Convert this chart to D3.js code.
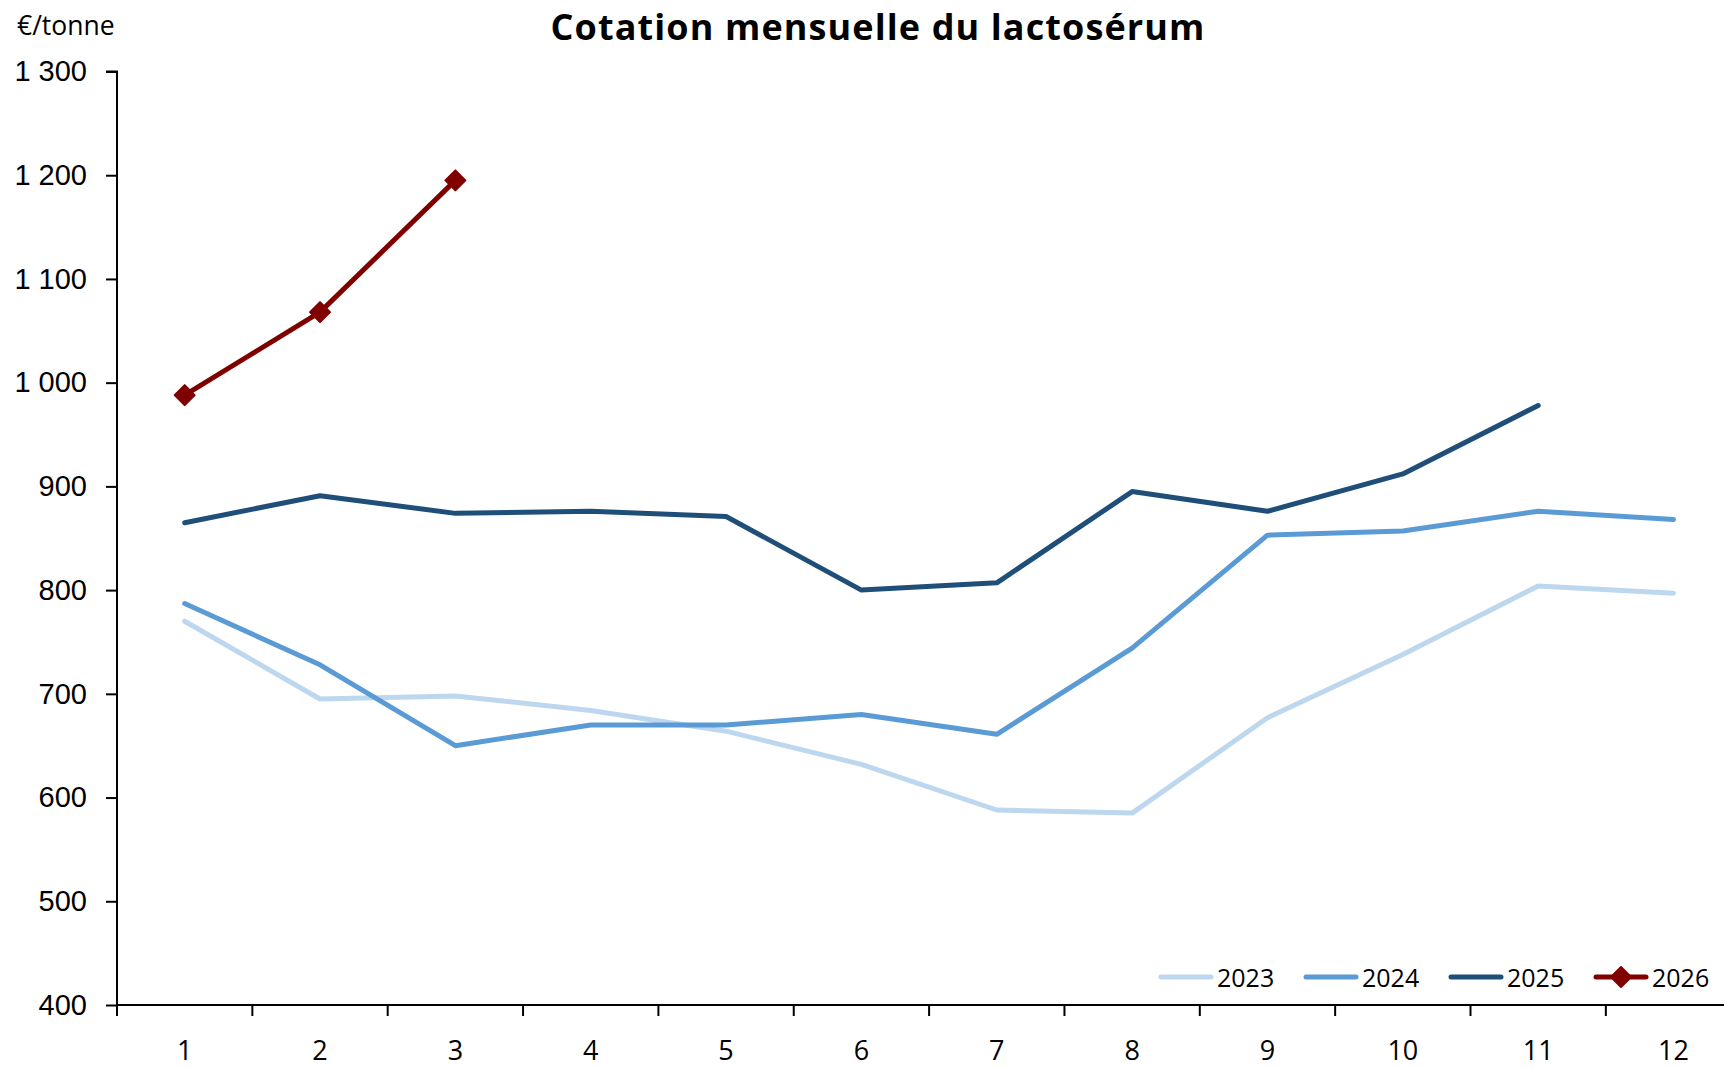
<!DOCTYPE html>
<html>
<head>
<meta charset="utf-8">
<script src="https://cdn.jsdelivr.net/npm/d3@7"></script>
<style>
  body { margin: 0; background: #fff; }
  svg { display: block; font-family: "Open Sans", sans-serif; }
</style>
</head>
<body>
<div id="chart"></div>
<script>
var months = [1, 2, 3, 4, 5, 6, 7, 8, 9, 10, 11, 12];
var yTicks = [400, 500, 600, 700, 800, 900, 1000, 1100, 1200, 1300];
var years = ["2023", "2024", "2025", "2026"];
var colors = ["#bdd7ee", "#5b9bd5", "#1f4e79", "#800000"];

var v2023 = [770, 695, 698, 684, 664, 632, 588, 585, 677, 738, 804, 797];
var v2024 = [787, 728, 650, 670, 670, 680, 661, 744, 853, 857, 876, 868];
var v2025 = [865, 891, 874, 876, 871, 800, 807, 895, 876, 912, 978];
var v2026 = [988, 1068, 1195];

var series = [v2023, v2024, v2025, v2026];

var width = 1724, height = 1068;
var margin = {top: 71.5, left: 117, bottom: 63};
var bandW = 135.35;

var svg = d3.select("#chart").append("svg")
    .attr("width", width)
    .attr("height", height);

svg.append("rect").attr("width", width).attr("height", height).attr("fill", "#fff");

var x = d3.scaleBand()
    .domain(months)
    .range([margin.left, margin.left + bandW * months.length])
    .padding(0);
var y = d3.scaleLinear()
    .domain([400, 1300])
    .range([height - margin.bottom, margin.top]);

// y axis
var yAxis = svg.append("g")
    .attr("transform", "translate(" + margin.left + ",0)")
    .call(d3.axisLeft(y).tickValues(yTicks).tickSize(11).tickPadding(19)
      .tickFormat(function(d) { return d3.format(",")(d).replace(",", " "); }))
    .call(function(g) { g.select(".domain").attr("d", "M0," + y(400) + "V" + y(1300) + "H-11"); });
yAxis.selectAll("text").style("font-size", "29px").attr("fill", "#000");
yAxis.selectAll("line, path").attr("stroke", "#000").attr("stroke-width", 2);

// x axis: ticks between months
var xAxis = svg.append("g")
    .attr("transform", "translate(0," + y(400) + ")");
xAxis.append("line")
    .attr("x1", margin.left).attr("x2", width)
    .attr("stroke", "#000").attr("stroke-width", 2);
xAxis.selectAll(".tk")
    .data(months)
  .enter().append("line")
    .attr("class", "tk")
    .attr("x1", function(d) { return x(d); })
    .attr("x2", function(d) { return x(d); })
    .attr("y1", 0).attr("y2", 11)
    .attr("stroke", "#000").attr("stroke-width", 2);
xAxis.selectAll(".lbl")
    .data(months)
  .enter().append("text")
    .attr("class", "lbl")
    .attr("x", function(d) { return x(d) + x.bandwidth() / 2; })
    .attr("y", 55)
    .attr("text-anchor", "middle")
    .style("font-size", "27px")
    .text(function(d) { return d; });

var line = d3.line()
    .x(function(d, i) { return x(months[i]) + x.bandwidth() / 2; })
    .y(function(d) { return y(d); });

svg.selectAll(".serie")
    .data(series)
  .enter().append("path")
    .attr("class", "serie")
    .attr("d", function(d) { return line(d); })
    .attr("fill", "none")
    .attr("stroke", function(d, i) { return colors[i]; })
    .attr("stroke-width", 5)
    .attr("stroke-linejoin", "round")
    .attr("stroke-linecap", "round");

var diamond = d3.symbol().type(d3.symbolSquare).size(200);

svg.selectAll(".mk")
    .data(v2026)
  .enter().append("path")
    .attr("class", "mk")
    .attr("d", diamond)
    .attr("transform", function(d, i) {
      return "translate(" + (x(months[i]) + x.bandwidth() / 2) + "," + y(d) + ") rotate(45)";
    })
    .attr("fill", colors[3])
    .attr("stroke", colors[3])
    .attr("stroke-width", 2)
    .attr("stroke-linejoin", "round");

// legend
var legX = [1161, 1306, 1451, 1596];
var leg = svg.selectAll(".leg")
    .data(years)
  .enter().append("g")
    .attr("class", "leg")
    .attr("transform", function(d, i) { return "translate(" + legX[i] + ",977)"; });
leg.append("line")
    .attr("x1", 0).attr("x2", 50)
    .attr("stroke", function(d, i) { return colors[i]; })
    .attr("stroke-width", 5)
    .attr("stroke-linecap", "round");
leg.filter(function(d, i) { return i == 3; }).append("path")
    .attr("d", diamond)
    .attr("transform", "translate(25,0) rotate(45)")
    .attr("fill", colors[3])
    .attr("stroke", colors[3])
    .attr("stroke-width", 2)
    .attr("stroke-linejoin", "round");
leg.append("text")
    .attr("x", 56)
    .attr("y", 10)
    .style("font-size", "25px")
    .text(function(d) { return d; });

svg.append("text")
    .attr("x", 17).attr("y", 35)
    .style("font-size", "26.5px")
    .text("€/tonne");

svg.append("text")
    .attr("x", 878).attr("y", 40)
    .attr("text-anchor", "middle")
    .style("font-size", "36px")
    .style("letter-spacing", "1.1px")
    .style("font-weight", "bold")
    .text("Cotation mensuelle du lactosérum");
</script>
</body>
</html>
